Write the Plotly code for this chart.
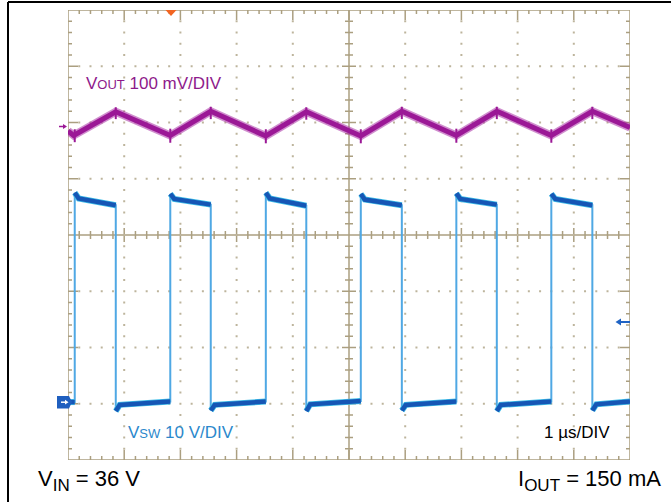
import plotly.graph_objects as go

# ---------------- data (read from the scope shot) ----------------
# time axis: 1 us/div, 10 divisions
vout_t_us = [0.00, 0.10, 0.85, 1.82, 2.54, 3.52, 4.24, 5.21, 5.94, 6.91, 7.63, 8.60, 9.33, 10.00]
vout_mv = [-9, -17, 25, -17, 26, -18, 25, -18, 26, -17, 26, -17, 26, -3]

# switching-noise spikes on VOUT (at every switch edge)
vout_spike_t_us = [0.12, 0.85, 1.82, 2.54, 3.52, 4.24, 5.21, 5.94, 6.91, 7.63, 8.60, 9.33]
vout_spike_lo_mv = [-29, 12, -30, 12, -31, 11, -31, 12, -30, 12, -30, 12]
vout_spike_hi_mv = [-6, 33, -5, 34, -6, 33, -6, 34, -5, 34, -6, 34]

# VSW edges and plateau levels (V)
sw_rise_us = [0.12, 1.82, 3.52, 5.21, 6.91, 8.60]
sw_fall_us = [0.85, 2.54, 4.24, 5.94, 7.63, 9.33]
sw_high_start_v = [37.2, 37.0, 37.2, 37.0, 37.1, 37.0]
sw_high_settle_v = [36.2, 36.1, 36.2, 36.0, 36.1, 36.1]
sw_high_end_v = [35.0, 35.1, 34.9, 35.0, 35.1, 35.0]
sw_low_start_v = [-1.6, -1.5, -1.6, -1.5, -1.6, -1.5]
sw_low_settle_v = [-0.5, -0.5, -0.4, -0.5, -0.5, -0.4]
sw_low_end_v = [0.1, 0.1, 0.2, 0.1, 0.1, 0.1]
sw_initial_v = 0.0
sw_settle_us = 0.07

# channel settings
vout_mv_per_div = 100
vsw_v_per_div = 10
vout_ref_div = 1.94
vsw_ref_div = -2.97

# ---------------- geometry helpers ----------------
W, H = 671, 502
L, R, T, B = 68, 630, 10, 460
PW, PH = R - L, B - T
DIVY = PH / 8.0


def xp(px):
    return (px - L) / PW


def yp(py):
    return (B - py) / PH


def pdiv(pixels):
    return pixels / DIVY


TAN = "#ab9f80"
DOT = "#bdb49c"

# ---------------- build traces ----------------
vout_y = [vout_ref_div + v / vout_mv_per_div for v in vout_mv]

spk_x, spk_y = [], []
for t, lo, hi in zip(vout_spike_t_us, vout_spike_lo_mv, vout_spike_hi_mv):
    spk_x += [t, t, None]
    spk_y += [vout_ref_div + lo / vout_mv_per_div, vout_ref_div + hi / vout_mv_per_div, None]


def sw(v):
    return vsw_ref_div + v / vsw_v_per_div


wave_x, wave_y = [0.0], [sw(sw_initial_v)]
plat_x, plat_y = [0.0], [sw(sw_initial_v)]
prev_low_end = sw_initial_v
for i in range(len(sw_rise_us)):
    r, f = sw_rise_us[i], sw_fall_us[i]
    wave_x += [r, r, r + sw_settle_us, f, f, f + sw_settle_us]
    wave_y += [sw(prev_low_end), sw(sw_high_start_v[i]), sw(sw_high_settle_v[i]),
               sw(sw_high_end_v[i]), sw(sw_low_start_v[i]), sw(sw_low_settle_v[i])]
    plat_x += [r, None, r, r + sw_settle_us, f, None, f, f + sw_settle_us]
    plat_y += [sw(prev_low_end), None, sw(sw_high_start_v[i]), sw(sw_high_settle_v[i]),
               sw(sw_high_end_v[i]), None, sw(sw_low_start_v[i]), sw(sw_low_settle_v[i])]
    prev_low_end = sw_low_end_v[i]
wave_x.append(10.0)
wave_y.append(sw(prev_low_end))
plat_x.append(10.0)
plat_y.append(sw(prev_low_end))

fig = go.Figure()

# graticule dots
dx, dy = [], []
for k in range(1, 10):
    if k == 5:
        continue
    for m in range(-19, 20):
        dx.append(k)
        dy.append(m * 0.2)
for k in range(-3, 4):
    if k == 0:
        continue
    for m in range(1, 50):
        if m % 5 == 0:
            continue
        dx.append(m * 0.2)
        dy.append(k)
fig.add_trace(go.Scatter(x=dx, y=dy, mode="markers",
                         marker=dict(symbol="square", size=2, color=DOT, line=dict(width=0)),
                         hoverinfo="skip", showlegend=False))

# VOUT
fig.add_trace(go.Scatter(x=vout_t_us, y=vout_y, mode="lines",
                         line=dict(color="rgba(170,50,165,0.55)", width=8),
                         hoverinfo="skip", showlegend=False))
fig.add_trace(go.Scatter(x=vout_t_us, y=vout_y, mode="lines",
                         line=dict(color="#9b1896", width=5),
                         hoverinfo="skip", showlegend=False))
fig.add_trace(go.Scatter(x=spk_x, y=spk_y, mode="lines",
                         line=dict(color="#9b1896", width=2),
                         hoverinfo="skip", showlegend=False))

# VSW
fig.add_trace(go.Scatter(x=wave_x, y=wave_y, mode="lines",
                         line=dict(color="#4fa8e4", width=2),
                         hoverinfo="skip", showlegend=False))
fig.add_trace(go.Scatter(x=plat_x, y=plat_y, mode="lines",
                         line=dict(color="#3ebde8", width=6),
                         hoverinfo="skip", showlegend=False))
fig.add_trace(go.Scatter(x=plat_x, y=plat_y, mode="lines",
                         line=dict(color="#1656b5", width=4.5),
                         hoverinfo="skip", showlegend=False))

# ---------------- shapes ----------------
shapes = []
shapes.append(dict(type="rect", xref="x", yref="y", x0=0, x1=10, y0=-4, y1=4,
                   line=dict(color=TAN, width=1.5), layer="below"))
shapes.append(dict(type="line", xref="x", yref="y", x0=0, x1=10, y0=0, y1=0,
                   line=dict(color=TAN, width=1.5), layer="below"))
shapes.append(dict(type="line", xref="x", yref="y", x0=5, x1=5, y0=-4, y1=4,
                   line=dict(color=TAN, width=1.5), layer="below"))

xdiv = PW / 10.0
for m in range(1, 50):
    x = m * 0.2
    major = (m % 5 == 0)
    lb = pdiv(10 if major else 4)
    lc = pdiv(7 if major else 4)
    shapes.append(dict(type="line", xref="x", yref="y", x0=x, x1=x, y0=4, y1=4 - lb,
                       line=dict(color=TAN, width=1.5), layer="below"))
    shapes.append(dict(type="line", xref="x", yref="y", x0=x, x1=x, y0=-4, y1=-4 + lb,
                       line=dict(color=TAN, width=1.5), layer="below"))
    if m != 25:
        shapes.append(dict(type="line", xref="x", yref="y", x0=x, x1=x, y0=-lc, y1=lc,
                           line=dict(color=TAN, width=1.5), layer="below"))
for m in range(-19, 20):
    y = m * 0.2
    if m == 0:
        continue
    major = (m % 5 == 0)
    lb = (10 if major else 4) / xdiv
    lc = (7 if major else 4) / xdiv
    shapes.append(dict(type="line", xref="x", yref="y", x0=0, x1=lb, y0=y, y1=y,
                       line=dict(color=TAN, width=1.5), layer="below"))
    shapes.append(dict(type="line", xref="x", yref="y", x0=10, x1=10 - lb, y0=y, y1=y,
                       line=dict(color=TAN, width=1.5), layer="below"))
    shapes.append(dict(type="line", xref="x", yref="y", x0=5 - lc, x1=5 + lc, y0=y, y1=y,
                       line=dict(color=TAN, width=1.5), layer="below"))

# outer black frame
shapes.append(dict(type="line", xref="paper", yref="paper", x0=xp(8), x1=xp(672),
                   y0=yp(2), y1=yp(2), line=dict(color="black", width=2)))
shapes.append(dict(type="line", xref="paper", yref="paper", x0=xp(8), x1=xp(8),
                   y0=yp(2), y1=yp(503), line=dict(color="black", width=2)))


def path(points):
    return "M " + " L ".join(f"{xp(a):.5f},{yp(b):.5f}" for a, b in points) + " Z"


shapes.append(dict(type="path", xref="paper", yref="paper",
                   path=path([(165.5, 10), (176.5, 10), (171, 16)]),
                   fillcolor="#f26522", line=dict(width=0)))
shapes.append(dict(type="line", xref="paper", yref="paper", x0=xp(59), x1=xp(64),
                   y0=yp(126.5), y1=yp(126.5), line=dict(color="#9b1896", width=1.5)))
shapes.append(dict(type="path", xref="paper", yref="paper",
                   path=path([(63, 124), (67, 126.5), (63, 129)]),
                   fillcolor="#9b1896", line=dict(width=0)))
shapes.append(dict(type="path", xref="paper", yref="paper",
                   path=path([(57, 396), (69, 396), (72, 402), (69, 408.5), (57, 408.5)]),
                   fillcolor="#1f5fbf", line=dict(width=0)))
shapes.append(dict(type="line", xref="paper", yref="paper", x0=xp(61), x1=xp(66),
                   y0=yp(402.2), y1=yp(402.2), line=dict(color="white", width=1.5)))
shapes.append(dict(type="path", xref="paper", yref="paper",
                   path=path([(65, 399.8), (68.5, 402.2), (65, 404.6)]),
                   fillcolor="white", line=dict(width=0)))
shapes.append(dict(type="line", xref="paper", yref="paper", x0=xp(620), x1=xp(630),
                   y0=yp(322), y1=yp(322), line=dict(color="#1f63c4", width=2)))
shapes.append(dict(type="path", xref="paper", yref="paper",
                   path=path([(621, 318.5), (615.5, 322), (621, 325.5)]),
                   fillcolor="#1f63c4", line=dict(width=0)))

FONT = "Liberation Sans, Arial, sans-serif"


def sub(text, size):
    return f"<sub><span style='font-size:{size}px'>{text}</span></sub>"


def small(text, size):
    return f"<span style='font-size:{size}px'>{text}</span>"


def label(text, px, py, size, color):
    return dict(text=text, xref="paper", yref="paper", x=xp(px), y=yp(py),
                xanchor="left", yanchor="middle", showarrow=False,
                font=dict(family=FONT, size=size, color=color), borderpad=0)


annotations = [
    label("V" + small("OUT", 13) + " 100 mV/DIV", 85, 83, 17, "#8e1a8b"),
    label("V" + small("SW", 13) + " 10 V/DIV", 127, 432, 17, "#2b88cc"),
    label("1 µs/DIV", 543, 432.5, 17, "black"),
    label("V" + sub("IN", 17) + " = 36 V", 37, 480, 22, "black"),
    label("I" + sub("OUT", 17) + " = 150 mA", 517, 480, 22, "black"),
]

fig.update_layout(
    width=W, height=H,
    margin=dict(l=L, r=W - R, t=T, b=H - B, pad=0),
    paper_bgcolor="white", plot_bgcolor="white",
    showlegend=False,
    xaxis=dict(range=[0, 10], showgrid=False, zeroline=False, showticklabels=False,
               showline=False, ticks="", fixedrange=True),
    yaxis=dict(range=[-4, 4], showgrid=False, zeroline=False, showticklabels=False,
               showline=False, ticks="", fixedrange=True),
    shapes=shapes,
    annotations=annotations,
)

fig.write_html("out.html", config={"displayModeBar": False},
               post_script="document.body.style.margin='0px';document.body.style.overflow='hidden';")
